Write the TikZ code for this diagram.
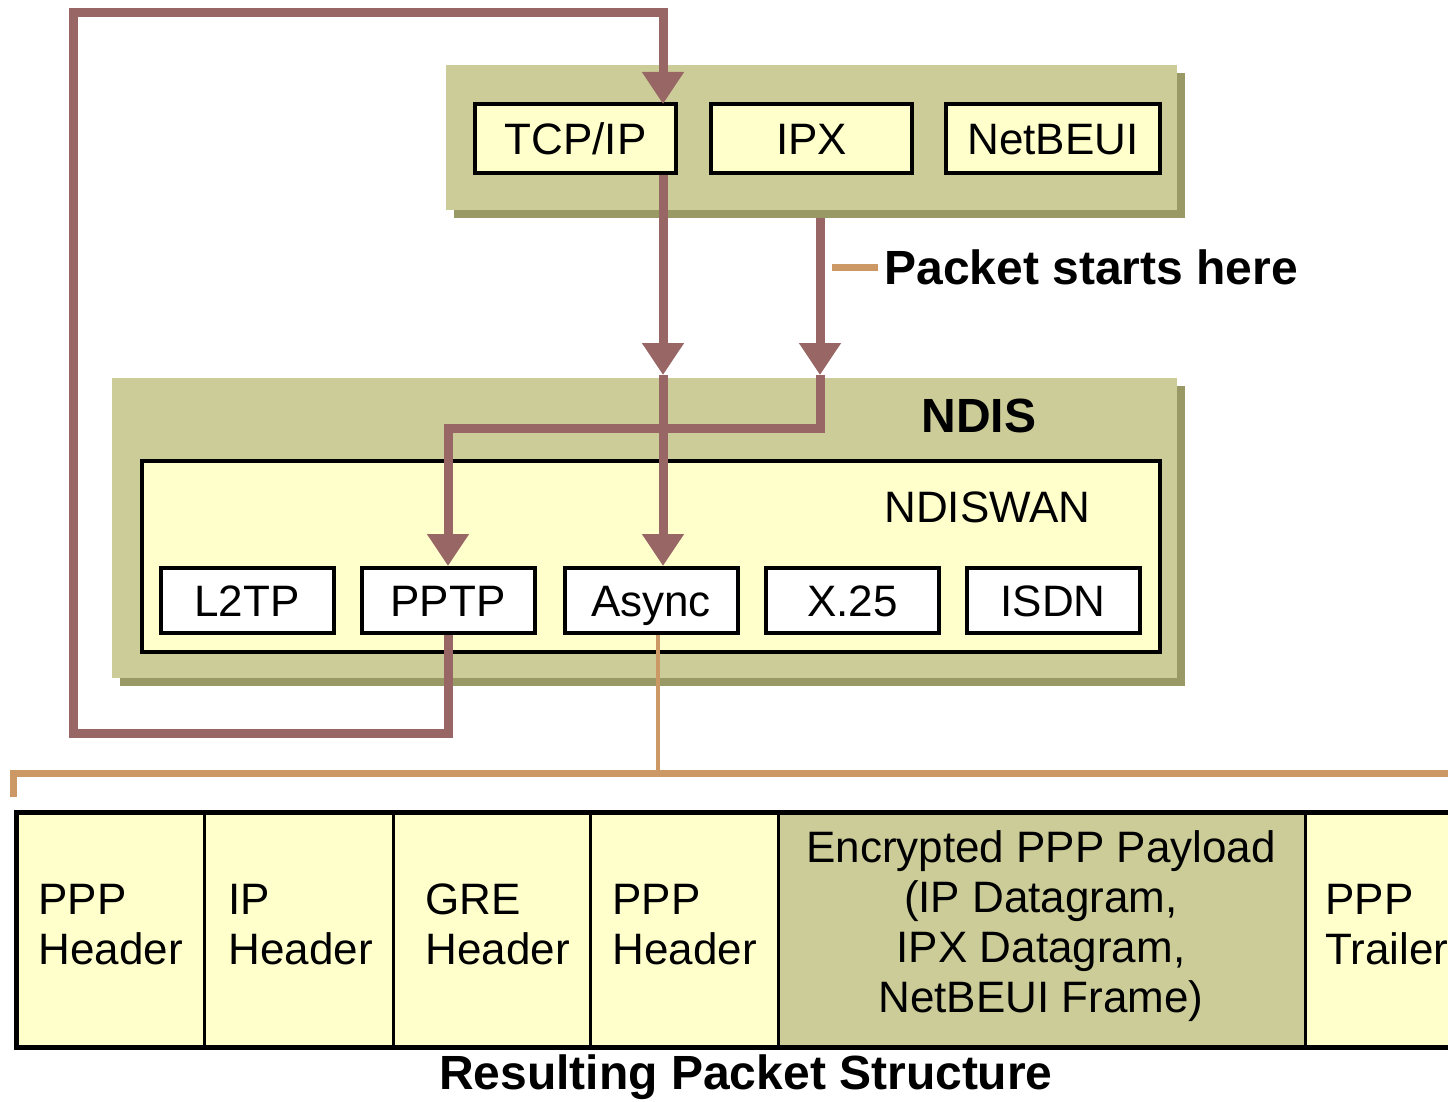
\documentclass[tikz,border=0pt]{standalone}
\usepackage{fontspec}
\setmainfont{Liberation Sans}
\usetikzlibrary{arrows.meta,positioning}

\definecolor{khaki}{HTML}{CCCC99}
\definecolor{khakishade}{HTML}{999966}
\definecolor{paleyellow}{HTML}{FFFFCC}
\definecolor{routebrown}{HTML}{996666}
\definecolor{tagorange}{HTML}{CC9966}

\tikzset{
  lbl/.style={font=\fontsize{22}{25}\selectfont, inner sep=0pt},
  lblbold/.style={font=\fontsize{24}{27}\selectfont\bfseries, inner sep=0pt},
  proto/.style={draw, line width=2pt, fill=paleyellow, inner sep=0pt,
    minimum width=100.5pt, minimum height=34.5pt, text height=15.8pt, text depth=0pt,
    font=\fontsize{22}{25}\selectfont},
  wan/.style={proto, fill=white, minimum width=86.5pt, minimum height=32.5pt},
  route/.style={draw=routebrown, line width=4.5pt},
  tip/.style={-{Triangle[length=16pt,width=20pt]}},
  tag/.style={draw=tagorange}
}

\begin{document}
\begin{tikzpicture}[x=0.5pt, y=-0.5pt]
  \useasboundingbox (0,0) rectangle (1448,1102);
  \clip (0,0) rectangle (1448,1102);

  \fill[khakishade] (454,73) rectangle (1185,218);
  \fill[khaki] (446,65) rectangle (1177,210);
  \fill[khakishade] (120,386) rectangle (1185,686);
  \fill[khaki] (112,378) rectangle (1177,678);
  \draw[line width=2pt, fill=paleyellow] (142,461) rectangle (1160,652);

  \node[proto] (tcpip) at (575.5,138.5) {TCP/IP};
  \node[proto] (ipx) at (811.5,138.5) {IPX};
  \node[proto, minimum width=107pt] (netbeui) at (1053,138.5) {NetBEUI};

  \foreach \nm/\x/\txt in {l2tp/247/L2TP, pptp/448/PPTP, async/651/Async, xtwofive/852.5/X.25, isdn/1053/ISDN}
    \node[wan] (\nm) at (\x,600.5) {\txt};

  \node[lblbold, anchor=base west] (ndis) at (921,432) {NDIS};
  \node[lbl, anchor=base west] (ndiswan) at (884,522) {NDISWAN};
  \node[lblbold, anchor=base west] (start) at (884,285) {Packet starts here};

  \coordinate (tcpin) at (663,104);
  \coordinate (tcpmid) at (663,375);
  \coordinate (ipxout) at (820,218);
  \coordinate (ipxmid) at (820,375);

  \draw[route, tip] (pptp.south) |- (73,733) |- (663,13) -- (tcpin);
  \draw[route, tip] (tcpip.south -| tcpin) -- (tcpmid);
  \draw[route, tip] (tcpmid) -- (async.north -| tcpin);
  \draw[route, tip] (ipxout) -- (ipxmid);
  \draw[route, tip] (ipxmid) -- (820,428) -| (pptp.north);

  \coordinate (brace) at (658,773);
  \draw[tag, line width=3.5pt] ([xshift=-3pt]start.west) -- ([xshift=-26pt]start.west);
  \draw[tag, line width=2pt] (async.south -| brace) -- (brace);
  \draw[tag, line width=3.5pt] (13,797) |- (1470,773);

  \foreach \a/\b/\c in {15/204/paleyellow, 204/393/paleyellow, 393/590/paleyellow,
      590/778/paleyellow, 778/1305/khaki, 1305/1470/paleyellow}
    \fill[\c] (\a,812) rectangle (\b,1047);
  \foreach \x in {204,393,590,778,1305}
    \draw[line width=1.5pt] (\x,812) -- (\x,1047);
  \draw[line width=2.5pt] (1470,812) -- (16,812) -- (16,1047) -- (1470,1047);

  \foreach \nm/\x/\lineone/\linetwo in {ppphead/38/PPP/Header, iphead/228/IP/Header,
      grehead/425/GRE/Header, pppinner/612/PPP/Header, trailer/1325/PPP/Trailer}
    \node[lbl, align=left, anchor=base west] (\nm) at (\x,964) {\lineone\\\linetwo};
  \node[lbl, align=center, anchor=base] (payload) at (1041,1012)
    {Encrypted PPP Payload\\(IP Datagram,\\IPX Datagram,\\NetBEUI Frame)};

  \node[lblbold, anchor=base] (result) at (746,1089) {Resulting Packet Structure};
\end{tikzpicture}
\end{document}
